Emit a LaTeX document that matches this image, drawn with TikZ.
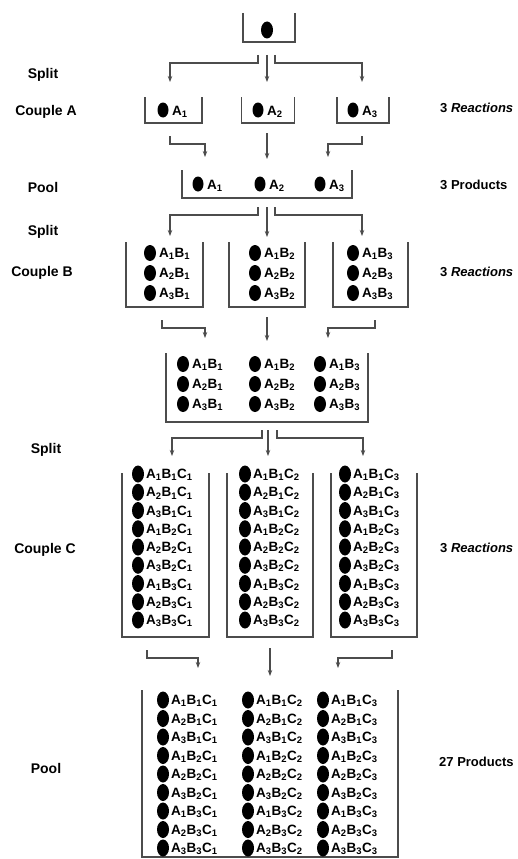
\documentclass[tikz,border=0pt]{standalone}
\usepackage{fontspec}
\setmainfont{Liberation Sans}
\usetikzlibrary{arrows.meta}
\newcommand\abl[2]{A\textsubscript{#1}B\textsubscript{#2}}
\newcommand\abcl[3]{A\textsubscript{#1}B\textsubscript{#2}C\textsubscript{#3}}
\begin{document}
\begin{tikzpicture}[x=1pt,y=-1pt,
  cup/.style={rectangle, inner sep=0pt, outer sep=0pt},
  cupline/.style={draw=black!70, line width=1.5pt},
  conn/.style={draw=black!70, line width=1.3pt, -{Stealth[length=6pt,width=4.5pt]}},
  bead/.style={fill=black},
  itm/.style={anchor=west, inner sep=0pt, font=\fontsize{13.5}{15}\selectfont\bfseries},
  side/.style={inner sep=0pt, font=\fontsize{14}{16}\selectfont\bfseries},
  rside/.style={inner sep=0pt, anchor=west, font=\fontsize{13}{16}\selectfont\bfseries}]
\useasboundingbox (0,0) rectangle (517,859);
% containers
\node[cup, minimum width=52pt,  minimum height=29pt]  (top) at (269,27.5) {};
\node[cup, minimum width=57pt,  minimum height=26pt]  (a1)  at (173.5,110) {};
\node[cup, minimum width=53pt,  minimum height=26pt]  (a2)  at (268,110) {};
\node[cup, minimum width=52pt,  minimum height=26pt]  (a3)  at (363,110) {};
\node[cup, minimum width=170pt, minimum height=28pt]  (pa)  at (267,184) {};
\node[cup, minimum width=77pt,  minimum height=65pt]  (b1)  at (164.5,274.5) {};
\node[cup, minimum width=76pt,  minimum height=65pt]  (b2)  at (267,274.5) {};
\node[cup, minimum width=75pt,  minimum height=65pt]  (b3)  at (370.5,274.5) {};
\node[cup, minimum width=202pt, minimum height=69pt]  (pb)  at (267,387.5) {};
\node[cup, minimum width=87pt,  minimum height=164pt] (c1)  at (165.5,555) {};
\node[cup, minimum width=86pt,  minimum height=164pt] (c2)  at (270,555) {};
\node[cup, minimum width=86pt,  minimum height=164pt] (c3)  at (374,555) {};
\node[cup, minimum width=256pt, minimum height=167pt] (pc)  at (270,773.5) {};
\foreach \n in {top,a1,a2,a3,pa,b1,b2,b3,pb,c1,c2,c3,pc}
  \draw[cupline] (\n.north west) -- (\n.south west) -- (\n.south east) -- (\n.north east);
% beads
\fill[bead] (267,30) ellipse (6pt and 8.5pt);
\foreach \i/\dx in {1/163,2/258,3/353} {
  \fill[bead] (\dx,110) ellipse (5.5pt and 7.5pt);
  \node[itm] (ta\i) at (\dx+9,112) {A\textsubscript{\i}};
}
\foreach \i/\dx in {1/198,2/260,3/320} {
  \fill[bead] (\dx,184) ellipse (5.5pt and 7.5pt);
  \node[itm] (tpa\i) at (\dx+9,186) {A\textsubscript{\i}};
}
\foreach \col/\dx in {1/150,2/255,3/353}
  \foreach \k/\yy in {1/253,2/273,3/293} {
    \fill[bead] (\dx,\yy) ellipse (6pt and 8pt);
    \node[itm] (tb\col-\k) at (\dx+9,\yy+1) {\abl{\k}{\col}};
  }
\foreach \col/\dx in {1/183,2/255,3/320}
  \foreach \k/\yy in {1/364,2/384,3/404} {
    \fill[bead] (\dx,\yy) ellipse (6pt and 8pt);
    \node[itm] (tpb\col-\k) at (\dx+9,\yy+1) {\abl{\k}{\col}};
  }
\foreach \col/\dx in {1/138,2/245,3/345}
  \foreach \k in {0,...,8} {
    \pgfmathtruncatemacro\ai{mod(\k,3)+1}
    \pgfmathtruncatemacro\bi{int(\k/3)+1}
    \pgfmathsetmacro\yy{474+18.25*\k}
    \fill[bead] (\dx,\yy) ellipse (6pt and 8.5pt);
    \node[itm] (tc\col-\k) at (\dx+8,\yy+1) {\abcl{\ai}{\bi}{\col}};
  }
\foreach \col/\dx in {1/163,2/248,3/323}
  \foreach \k in {0,...,8} {
    \pgfmathtruncatemacro\ai{mod(\k,3)+1}
    \pgfmathtruncatemacro\bi{int(\k/3)+1}
    \pgfmathsetmacro\yy{700+18.5*\k}
    \fill[bead] (\dx,\yy) ellipse (6pt and 8.5pt);
    \node[itm] (tpc\col-\k) at (\dx+8,\yy+1) {\abcl{\ai}{\bi}{\col}};
  }
% connector end points
\coordinate (sAl) at (258,55);  \coordinate (eAl) at (170,82);
\coordinate (sAc) at (267,55);  \coordinate (eAc) at (267,82);
\coordinate (sAr) at (275,55);  \coordinate (eAr) at (362,82);
\coordinate (mAl) at (170,136); \coordinate (fAl) at (205,157);
\coordinate (mAc) at (267,133); \coordinate (fAc) at (267,159);
\coordinate (mAr) at (362,136); \coordinate (fAr) at (328,157);
\coordinate (sBl) at (258,207); \coordinate (eBl) at (170,236);
\coordinate (sBc) at (267,207); \coordinate (eBc) at (267,237);
\coordinate (sBr) at (275,207); \coordinate (eBr) at (362,236);
\coordinate (mBl) at (162,320); \coordinate (fBl) at (205,338);
\coordinate (mBc) at (267,317); \coordinate (fBc) at (267,341);
\coordinate (mBr) at (375,320); \coordinate (fBr) at (328,338);
\coordinate (sCl) at (262,430); \coordinate (eCl) at (172,456);
\coordinate (sCc) at (268,430); \coordinate (eCc) at (268,456);
\coordinate (sCr) at (277,430); \coordinate (eCr) at (363,456);
\coordinate (mCl) at (147,650); \coordinate (fCl) at (198,668);
\coordinate (mCc) at (270,648); \coordinate (fCc) at (270,676);
\coordinate (mCr) at (392,650); \coordinate (fCr) at (338,668);
\foreach \s in {A,B,C} {
  \draw[conn] (s\s l) -- ++(0,8) -| (e\s l);
  \draw[conn] (s\s c) -- (e\s c);
  \draw[conn] (s\s r) -- ++(0,8) -| (e\s r);
  \draw[conn] (m\s l) -- ++(0,8) -| (f\s l);
  \draw[conn] (m\s c) -- (f\s c);
  \draw[conn] (m\s r) -- ++(0,8) -| (f\s r);
}
% side labels
\node[side] (l1) at (43,75)  {Split};
\node[side] (l2) at (46,112) {Couple A};
\node[side] (l3) at (43,187) {Pool};
\node[side] (l4) at (43,232) {Split};
\node[side] (l5) at (42,273) {Couple B};
\node[side] (l6) at (46,450) {Split};
\node[side] (l7) at (45,550) {Couple C};
\node[side] (l8) at (46,768) {Pool};
\node[rside] (r1) at (440,108) {3 \textit{Reactions}};
\node[rside] (r2) at (440,185) {3 Products};
\node[rside] (r3) at (440,272) {3 \textit{Reactions}};
\node[rside] (r4) at (440,548) {3 \textit{Reactions}};
\node[rside] (r5) at (439,762) {27 Products};
\end{tikzpicture}
\end{document}
